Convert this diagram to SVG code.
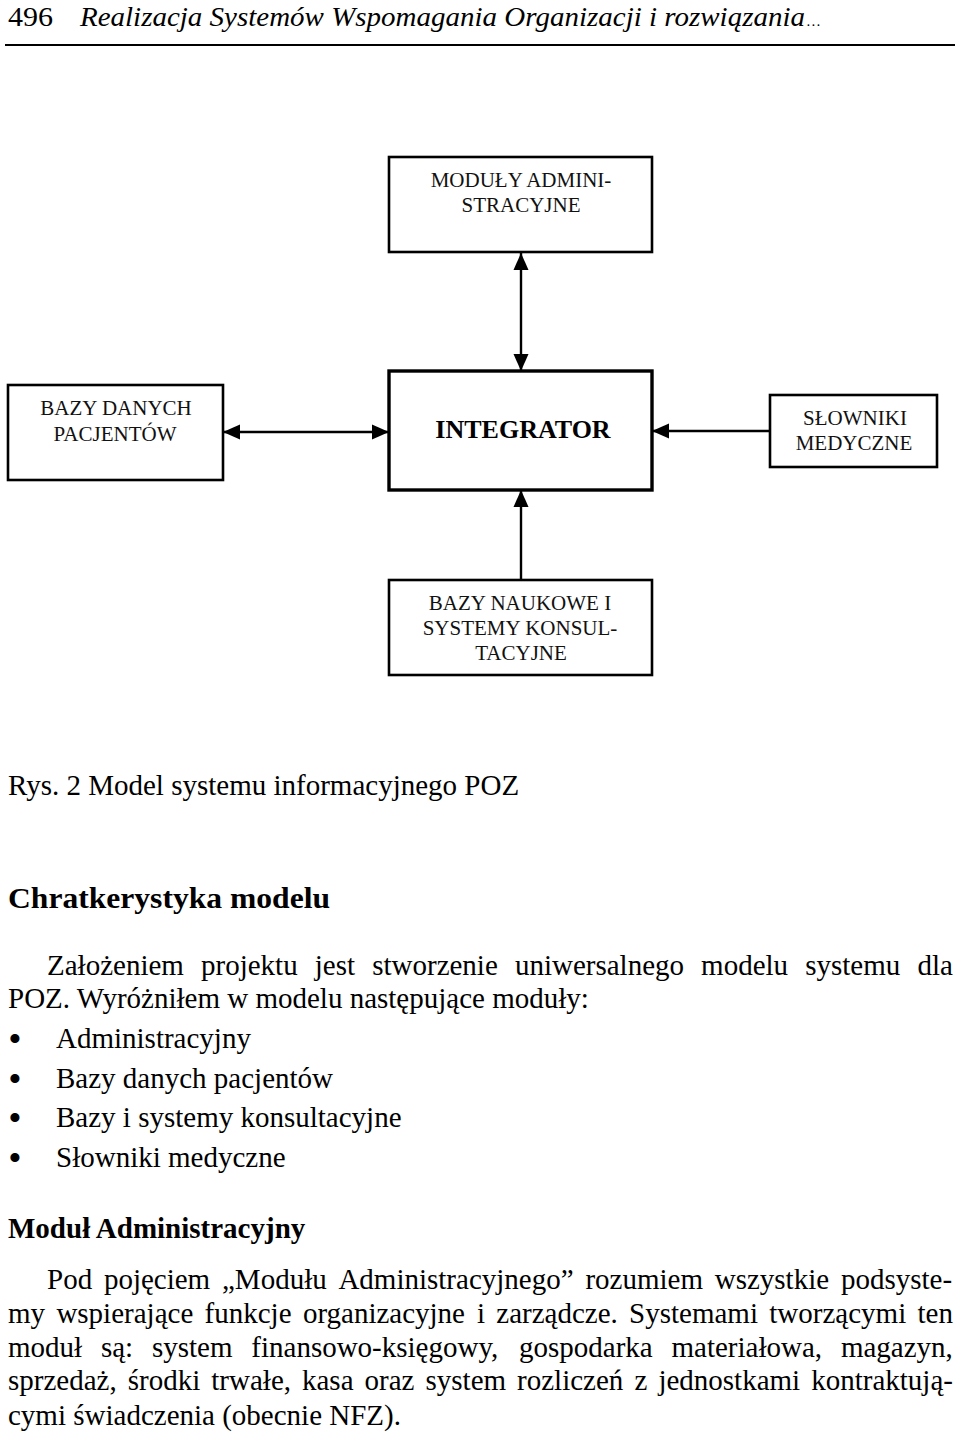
<svg xmlns="http://www.w3.org/2000/svg" width="960" height="1437" viewBox="0 0 960 1437">
<style>
.bg{fill:#ffffff}
.box{fill:#ffffff;stroke:#000;stroke-width:2.6}
.boxb{fill:#ffffff;stroke:#000;stroke-width:3.4}
.lbl{font-family:"Liberation Serif","Times New Roman",serif;font-size:21px;fill:#111;text-anchor:middle}
.big{font-family:"Liberation Serif","Times New Roman",serif;font-size:26px;font-weight:bold;fill:#000;text-anchor:middle}
.con{stroke:#000;stroke-width:2.4;fill:none}
.body{font-family:"Liberation Serif","Times New Roman",serif;font-size:29px;fill:#000}
.bul{font-family:"Liberation Serif","Times New Roman",serif;font-size:38px;fill:#000;text-anchor:middle}
.bold{font-family:"Liberation Serif","Times New Roman",serif;font-size:29px;font-weight:bold;fill:#000}
.hdr{font-family:"Liberation Serif","Times New Roman",serif;font-size:27px;fill:#000}
.hdri{font-family:"Liberation Serif","Times New Roman",serif;font-size:27px;font-style:italic;fill:#000}
</style>
<defs>
<marker id="ah" markerUnits="userSpaceOnUse" markerWidth="17" markerHeight="16" refX="17" refY="8" orient="auto-start-reverse">
<path d="M0,0.5 L17,8 L0,15.5 z" fill="#000"/>
</marker>
</defs>
<rect class="bg" x="0" y="0" width="960" height="1437"/>

<g id="header">
<text class="hdr" x="8" y="26" textLength="45" lengthAdjust="spacingAndGlyphs">496</text>
<text class="hdri" x="80" y="26" textLength="725" lengthAdjust="spacingAndGlyphs">Realizacja Systemów Wspomagania Organizacji i rozwiązania</text>
<text class="hdri" x="807" y="26" style="font-size:15px">…</text>
<line x1="5" y1="45" x2="955" y2="45" stroke="#000" stroke-width="2"/>
</g>

<g id="connectors">
<line class="con" x1="521" y1="253" x2="521" y2="371" marker-start="url(#ah)" marker-end="url(#ah)"/>
<line class="con" x1="223" y1="432" x2="389" y2="432" marker-start="url(#ah)" marker-end="url(#ah)"/>
<line class="con" x1="770" y1="431" x2="652" y2="431" marker-end="url(#ah)"/>
<line class="con" x1="521" y1="580" x2="521" y2="490" marker-end="url(#ah)"/>
</g>

<g id="node-moduly">
<rect class="box" x="389" y="157" width="263" height="95"/>
<text class="lbl" x="521" y="187">MODUŁY ADMINI-</text>
<text class="lbl" x="521" y="212">STRACYJNE</text>
</g>

<g id="node-integrator">
<rect class="boxb" x="389" y="371" width="263" height="119"/>
<text class="big" x="523" y="438">INTEGRATOR</text>
</g>

<g id="node-bazy-danych">
<rect class="box" x="8" y="385" width="215" height="95"/>
<text class="lbl" x="116" y="415">BAZY DANYCH</text>
<text class="lbl" x="115" y="441">PACJENTÓW</text>
</g>

<g id="node-slowniki">
<rect class="box" x="770" y="395" width="167" height="72"/>
<text class="lbl" x="855" y="425">SŁOWNIKI</text>
<text class="lbl" x="854" y="450">MEDYCZNE</text>
</g>

<g id="node-bazy-naukowe">
<rect class="box" x="389" y="580" width="263" height="95"/>
<text class="lbl" x="520" y="610">BAZY NAUKOWE I</text>
<text class="lbl" x="520" y="635">SYSTEMY KONSUL-</text>
<text class="lbl" x="521" y="660">TACYJNE</text>
</g>

<g id="text">
<text class="body" x="8" y="795">Rys. 2 Model systemu informacyjnego POZ</text>
<text class="bold" x="8" y="908" style="font-size:30px" textLength="322" lengthAdjust="spacingAndGlyphs">Chratkerystyka modelu</text>

<text class="body" y="975"><tspan x="47">Założeniem</tspan><tspan x="201">projektu</tspan><tspan x="314.8">jest</tspan><tspan x="372.2">stworzenie</tspan><tspan x="514.9">uniwersalnego</tspan><tspan x="701.1">modelu</tspan><tspan x="805.2">systemu</tspan><tspan x="917.4">dla</tspan></text>
<text class="body" x="8" y="1008">POZ. Wyróżniłem w modelu następujące moduły:</text>

<text class="bul" x="15" y="1052">•</text><text class="body" x="56" y="1048">Administracyjny</text>
<text class="bul" x="15" y="1092">•</text><text class="body" x="56" y="1088">Bazy danych pacjentów</text>
<text class="bul" x="15" y="1131">•</text><text class="body" x="56" y="1127">Bazy i systemy konsultacyjne</text>
<text class="bul" x="15" y="1171">•</text><text class="body" x="56" y="1167">Słowniki medyczne</text>

<text class="bold" x="8" y="1238">Moduł Administracyjny</text>

<text class="body" y="1289"><tspan x="47">Pod</tspan><tspan x="103.9">pojęciem</tspan><tspan x="222">„Modułu</tspan><tspan x="338.4">Administracyjnego”</tspan><tspan x="585.4">rozumiem</tspan><tspan x="714.7">wszystkie</tspan><tspan x="840.9">podsyste-</tspan></text>
<text class="body" y="1323"><tspan x="8">my</tspan><tspan x="56.4">wspierające</tspan><tspan x="204.6">funkcje</tspan><tspan x="302.9">organizacyjne</tspan><tspan x="476.9">i</tspan><tspan x="496.3">zarządcze.</tspan><tspan x="629.1">Systemami</tspan><tspan x="769.3">tworzącymi</tspan><tspan x="917.5">ten</tspan></text>
<text class="body" y="1357"><tspan x="8">moduł</tspan><tspan x="100.9">są:</tspan><tspan x="151.9">system</tspan><tspan x="251.3">finansowo-księgowy,</tspan><tspan x="519">gospodarka</tspan><tspan x="671.5">materiałowa,</tspan><tspan x="840.9">magazyn,</tspan></text>
<text class="body" y="1390"><tspan x="8">sprzedaż,</tspan><tspan x="127.7">środki</tspan><tspan x="211.3">trwałe,</tspan><tspan x="302">kasa</tspan><tspan x="364.6">oraz</tspan><tspan x="425.5">system</tspan><tspan x="517.1">rozliczeń</tspan><tspan x="634.5">z</tspan><tspan x="658.4">jednostkami</tspan><tspan x="811.2">kontraktują-</tspan></text>
<text class="body" x="8" y="1425">cymi świadczenia (obecnie NFZ).</text>
</g>
</svg>
